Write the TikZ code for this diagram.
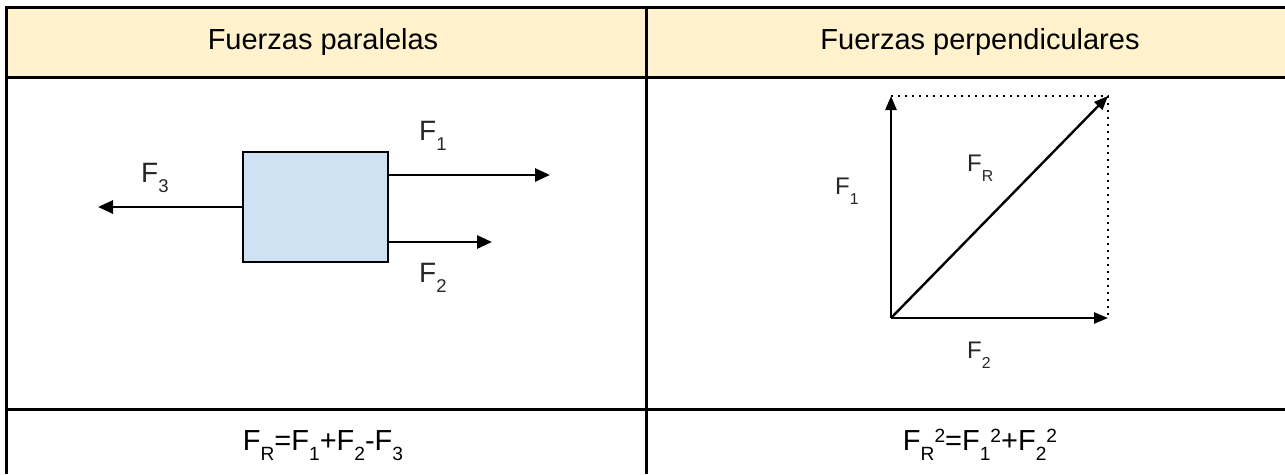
\documentclass[tikz,border=0pt]{standalone}
\usepackage{fontspec}
\setmainfont{Liberation Sans}
\usetikzlibrary{arrows.meta}

\definecolor{headfill}{HTML}{FFF2CC}
\definecolor{boxfill}{HTML}{CFE2F3}
\definecolor{labelgray}{HTML}{262626}

% lowered index and raised exponent, as set in the drawing tool
\newcommand{\lowidx}[1]{\raisebox{-10pt}{\scalebox{0.66}{#1}}}
\newcommand{\highidx}[1]{\raisebox{0.25em}{\scalebox{0.66}{#1}}}

\tikzset{
  rule/.style={line width=3pt},
  headtext/.style={font=\fontsize{29}{34}\selectfont, anchor=base, inner sep=0pt},
  formtext/.style={font=\fontsize{29}{34}\selectfont, anchor=base, inner sep=0pt},
  biglabel/.style={font=\fontsize{28}{32}\selectfont, text=labelgray, anchor=base west, inner sep=0pt},
  smalllabel/.style={font=\fontsize{24}{28}\selectfont, text=labelgray, anchor=base west, inner sep=0pt},
  force/.style={line width=2.8pt, -{Triangle[length=15pt, width=13pt]}},
  vforce/.style={line width=2.4pt, -{Triangle[length=14pt, width=11pt]}},
  helper/.style={line width=2.5pt, dash pattern=on 2pt off 5pt},
  body/.style={draw, line width=2.8pt, fill=boxfill, minimum width=145pt, minimum height=110pt, inner sep=0pt}
}

\begin{document}
\begin{tikzpicture}[x=1pt, y=-1pt]
  \useasboundingbox (0,0) rectangle (1285,474);
  \fill[white] (0,0) rectangle (1285,474);

  % header row
  \fill[headfill] (6,7) rectangle (1285,77);
  \draw[rule] (1285,7) -- (6,7) -- (6,474);
  \draw[rule] (6,77) -- (1285,77);
  \draw[rule] (646,7) -- (646,474);
  \draw[rule] (6,409.5) -- (1285,409.5);

  \node[headtext] (h1) at (323,49.5) {Fuerzas paralelas};
  \node[headtext] (h2) at (980,49.5) {Fuerzas perpendiculares};

  % parallel forces on a block
  \node[body] (blk) at (315.5,207) {};
  \coordinate (t1) at (550,175);
  \coordinate (t2) at (492,242);
  \coordinate (t3) at (98,207);
  \draw[force] (blk.east |- t1) -- (t1);
  \draw[force] (blk.east |- t2) -- (t2);
  \draw[force] (blk.west |- t3) -- (t3);

  \node[biglabel] (l1) at (419,140) {F\lowidx{1}};
  \node[biglabel] (l2) at (419,282) {F\lowidx{2}};
  \node[biglabel] (l3) at (141,182) {F\lowidx{3}};

  % perpendicular forces and their resultant
  \coordinate (o) at (891,318);
  \coordinate (a) at (891,96);
  \coordinate (b) at (1108,318);
  \coordinate (c) at (1108,96);
  \draw[helper] (a) -- (c) -- (b);
  \draw[vforce] (o) -- (a);
  \draw[vforce] (o) -- (b);
  \draw[vforce] (o) -- (c);

  \node[smalllabel] (r1) at (835,194) {F\lowidx{1}};
  \node[smalllabel] (r2) at (967,358) {F\lowidx{2}};
  \node[smalllabel] (rr) at (967,171) {F\lowidx{R}};

  % formulas
  \node[formtext] (f1) at (323,450) {F\lowidx{R}=F\lowidx{1}+F\lowidx{2}-F\lowidx{3}};
  \node[formtext] (f2) at (980,450) {F\lowidx{R}\highidx{2}=F\lowidx{1}\highidx{2}+F\lowidx{2}\highidx{2}};
\end{tikzpicture}
\end{document}
